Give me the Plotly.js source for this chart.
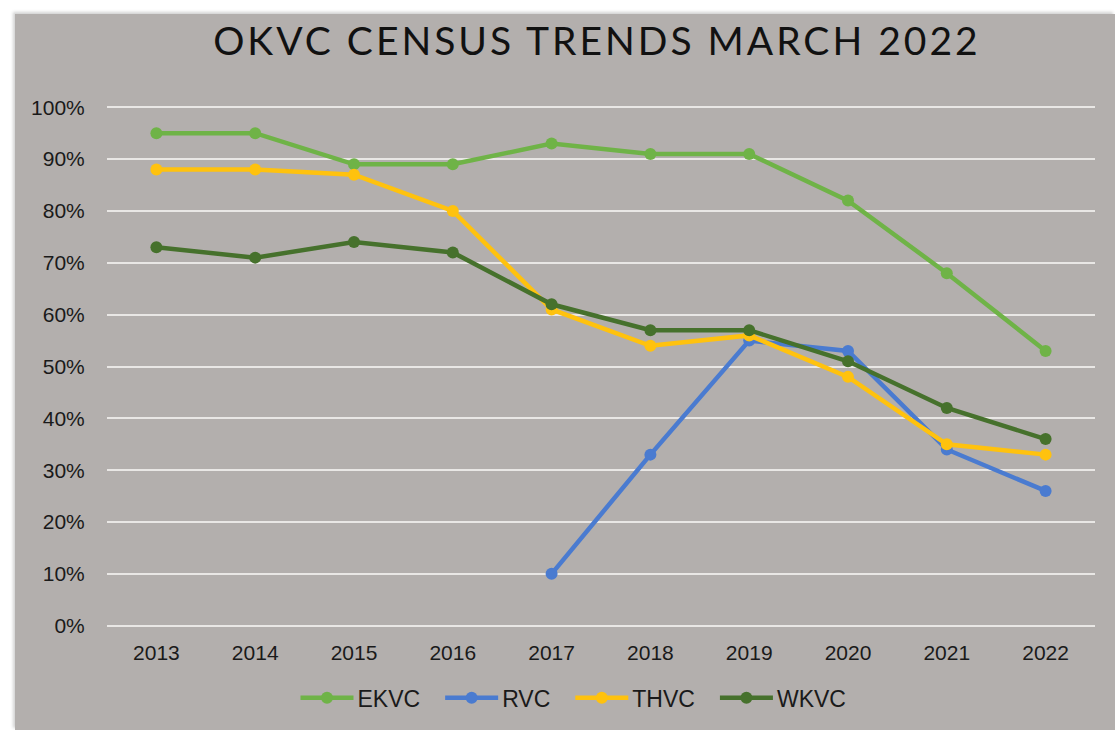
<!DOCTYPE html>
<html>
<head>
<meta charset="utf-8">
<script src="https://cdn.plot.ly/plotly-3.0.1.min.js"></script>
<style>
  html, body { margin: 0; padding: 0; background: #ffffff; }
  #chart {
    position: absolute; left: 15px; top: 14px;
    width: 1100px; height: 716px;
    box-shadow: -2px -2px 3px rgba(0,0,0,0.18);
  }
  .gtitle { letter-spacing: 3px; }
</style>
</head>
<body>
<div id="chart"></div>
<script>
// datos (porcentaje)
const anios = ["2013", "2014", "2015", "2016", "2017", "2018", "2019", "2020", "2021", "2022"];
const ekvc = [95, 95, 89, 89, 93, 91, 91, 82, 68, 53];
const rvc  = [null, null, null, null, 10, 33, 55, 53, 34, 26];
const thvc = [88, 88, 87, 80, 61, 54, 56, 48, 35, 33];
const wkvc = [73, 71, 74, 72, 62, 57, 57, 51, 42, 36];
const yTicks = [0, 10, 20, 30, 40, 50, 60, 70, 80, 90, 100];
const yTickText = yTicks.map(v => v + "%");

function serie(nombre, valores, color) {
    return {
        x: anios,
        y: valores,
        name: nombre,
        type: "scatter",
        mode: "lines+markers",
        line: { color: color, width: 4.5 },
        marker: { color: color, size: 12 },
        connectgaps: false
    };
}

const trazas = [
    serie("EKVC", ekvc, "#6fb347"),
    serie("RVC", rvc, "#4a7bd0"),
    serie("THVC", thvc, "#ffc20e"),
    serie("WKVC", wkvc, "#46712c")
];

const layout = {
    width: 1100,
    height: 716,
    paper_bgcolor: "#b3afad",
    plot_bgcolor: "#b3afad",
    margin: { t: 92, b: 103, l: 92, r: 20 },
    font: { family: "Liberation Sans, Arial, sans-serif", size: 21, color: "#1a1a1a" },
    title: {
        text: "OKVC CENSUS TRENDS MARCH 2022",
        font: { family: "Lato, sans-serif", size: 39, color: "#111111" },
        x: 0.529,
        xanchor: "center",
        y: 0.962,
        yanchor: "middle"
    },
    xaxis: {
        type: "category",
        range: [-0.5, 9.5],
        showgrid: false,
        zeroline: false,
        showline: false,
        ticks: "",
        tickfont: { size: 21 },
        ticklabelstandoff: 11
    },
    yaxis: {
        range: [-0.25, 100.25],
        tickmode: "array",
        tickvals: yTicks,
        ticktext: yTickText,
        showgrid: true,
        gridcolor: "#e9e7e5",
        gridwidth: 2,
        zeroline: false,
        showline: false,
        ticks: "outside",
        ticklen: 7,
        tickcolor: "rgba(0,0,0,0)",
        tickfont: { size: 21 },
        ticklabelstandoff: 10
    },
    showlegend: true,
    legend: {
        orientation: "h",
        xref: "container",
        yref: "container",
        x: 0.5,
        xanchor: "center",
        y: 0.045,
        yanchor: "middle",
        font: { size: 23 },
        bgcolor: "rgba(0,0,0,0)",
        itemwidth: 52
    }
};

Plotly.newPlot("chart", trazas, layout, { displayModeBar: false, staticPlot: true }).then(gd => {
    // alargar la linea de la leyenda y separar un poco mas las entradas
    const extra = 15;
    const caja = gd.querySelector(".legend .scrollbox");
    if (caja) caja.removeAttribute("clip-path");
    const items = gd.querySelectorAll(".legend .traces");
    items.forEach((t, i) => {
        const linea = t.querySelector(".legendlines path");
        if (linea) linea.setAttribute("d", "M5,0h53");
        const punto = t.querySelector(".legendpoints path");
        if (punto) punto.setAttribute("transform", "translate(31.5,0)");
        const m = /translate\(([-\d.]+),\s*([-\d.]+)\)/.exec(t.getAttribute("transform") || "");
        if (m) {
            const dx = parseFloat(m[1]) + extra * i - 14;
            t.setAttribute("transform", "translate(" + dx + "," + m[2] + ")");
        }
    });
});
</script>
</body>
</html>
